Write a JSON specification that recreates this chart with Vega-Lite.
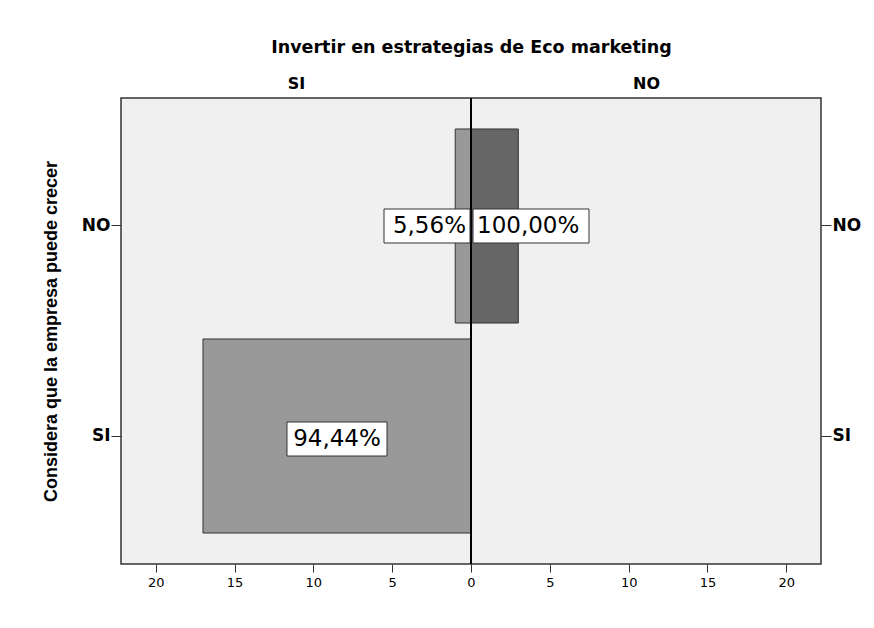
{
  "$schema": "https://vega.github.io/schema/vega-lite/v6.json",
  "width": 700,
  "height": 466,
  "autosize": {"type": "none"},
  "padding": {"left": 121, "top": 98, "right": 53, "bottom": 64},
  "background": "white",
  "config": {"view": {"fill": "#f0f0f0", "stroke": "#333333", "strokeWidth": 1.5}},
  "data": {"values": [
    {"crecer": "NO", "invertir": "SI", "valor": -1, "pct": "5,56%"},
    {"crecer": "NO", "invertir": "NO", "valor": 3, "pct": "100,00%"},
    {"crecer": "SI", "invertir": "SI", "valor": -17, "pct": "94,44%"}
  ]},
  "resolve": {"axis": {"x": "independent", "y": "independent"}},
  "layer": [
    {
      "mark": {"type": "bar", "stroke": "#333333", "strokeWidth": 1},
      "encoding": {
        "y": {"field": "crecer", "type": "nominal", "sort": ["NO", "SI"],
          "scale": {"paddingInner": 0.076, "paddingOuter": 0.1475},
          "axis": {"orient": "left", "title": "Considera que la empresa puede crecer",
            "titleFont": "Liberation Sans", "titleFontWeight": "bold", "titleFontSize": 18, "titleColor": "#000000", "titlePadding": 21,
            "labelFont": "DejaVu Sans", "labelFontWeight": "bold", "labelFontSize": 17, "labelColor": "#000000", "labelPadding": 1,
            "tickSize": 10, "tickColor": "#333333", "domain": false, "grid": false}},
        "x": {"field": "valor", "type": "quantitative",
          "scale": {"domain": [-22.2, 22.2], "nice": false, "zero": false},
          "axis": {"orient": "bottom", "title": null, "values": [-20, -15, -10, -5, 0, 5, 10, 15, 20],
            "labelExpr": "abs(datum.value)", "labelFont": "DejaVu Sans", "labelFontSize": 13, "labelColor": "#000000",
            "labelPadding": 4, "tickSize": 8, "tickColor": "#333333", "domain": false, "grid": false}},
        "fill": {"field": "invertir", "type": "nominal",
          "scale": {"domain": ["SI", "NO"], "range": ["#999999", "#666666"]}, "legend": null}
      }
    },
    {
      "mark": {"type": "rule", "color": "#000000", "strokeWidth": 2},
      "encoding": {
        "x": {"datum": 0, "type": "quantitative",
          "axis": {"orient": "top", "values": [-11.1, 11.1], "labelExpr": "datum.value < 0 ? 'SI' : 'NO'",
            "title": "Invertir en estrategias de Eco marketing", "titleFont": "DejaVu Sans", "titleFontWeight": "bold",
            "titleFontSize": 17.5, "titleColor": "#000000", "titlePadding": 19,
            "labelFont": "DejaVu Sans", "labelFontWeight": "bold", "labelFontSize": 16, "labelColor": "#000000",
            "labelPadding": 7, "ticks": false, "domain": false, "grid": false}}
      }
    },
    {
      "transform": [{"filter": "datum.valor < 0 && datum.valor >= -5"}],
      "mark": {"type": "point", "shape": "M-87,-17H-1V17H-87Z", "size": 4, "filled": true, "fill": "#ffffff", "stroke": "#333333", "strokeWidth": 1, "opacity": 1},
      "encoding": {
        "x": {"datum": 0, "type": "quantitative", "axis": null},
        "y": {"field": "crecer", "type": "nominal", "sort": ["NO", "SI"],
          "axis": {"orient": "right", "title": null,
            "labelFont": "DejaVu Sans", "labelFontWeight": "bold", "labelFontSize": 17, "labelColor": "#000000", "labelPadding": 1,
            "tickSize": 10, "tickColor": "#333333", "domain": false, "grid": false}}
      }
    },
    {
      "transform": [{"filter": "datum.valor < 0 && datum.valor >= -5"}],
      "mark": {"type": "text", "align": "right", "baseline": "middle", "dx": -5, "font": "DejaVu Sans", "fontSize": 23, "color": "#000000"},
      "encoding": {
        "x": {"datum": 0, "type": "quantitative", "axis": null},
        "y": {"field": "crecer", "type": "nominal", "sort": ["NO", "SI"], "axis": null},
        "text": {"field": "pct"}
      }
    },
    {
      "transform": [{"filter": "datum.valor > 0"}],
      "mark": {"type": "point", "shape": "M2,-17H118V17H2Z", "size": 4, "filled": true, "fill": "#ffffff", "stroke": "#333333", "strokeWidth": 1, "opacity": 1},
      "encoding": {
        "x": {"datum": 0, "type": "quantitative", "axis": null},
        "y": {"field": "crecer", "type": "nominal", "sort": ["NO", "SI"], "axis": null}
      }
    },
    {
      "transform": [{"filter": "datum.valor > 0"}],
      "mark": {"type": "text", "align": "left", "baseline": "middle", "dx": 6, "font": "DejaVu Sans", "fontSize": 23, "color": "#000000"},
      "encoding": {
        "x": {"datum": 0, "type": "quantitative", "axis": null},
        "y": {"field": "crecer", "type": "nominal", "sort": ["NO", "SI"], "axis": null},
        "text": {"field": "pct"}
      }
    },
    {
      "transform": [{"filter": "datum.valor < -5"}, {"calculate": "datum.valor / 2", "as": "medio"}],
      "mark": {"type": "point", "shape": "M-50,-17H50V17H-50Z", "size": 4, "filled": true, "fill": "#ffffff", "stroke": "#333333", "strokeWidth": 1, "opacity": 1, "yOffset": 3},
      "encoding": {
        "x": {"field": "medio", "type": "quantitative", "axis": null},
        "y": {"field": "crecer", "type": "nominal", "sort": ["NO", "SI"], "axis": null}
      }
    },
    {
      "transform": [{"filter": "datum.valor < -5"}, {"calculate": "datum.valor / 2", "as": "medio"}],
      "mark": {"type": "text", "align": "center", "baseline": "middle", "yOffset": 3, "font": "DejaVu Sans", "fontSize": 23, "color": "#000000"},
      "encoding": {
        "x": {"field": "medio", "type": "quantitative", "axis": null},
        "y": {"field": "crecer", "type": "nominal", "sort": ["NO", "SI"], "axis": null},
        "text": {"field": "pct"}
      }
    }
  ]
}
